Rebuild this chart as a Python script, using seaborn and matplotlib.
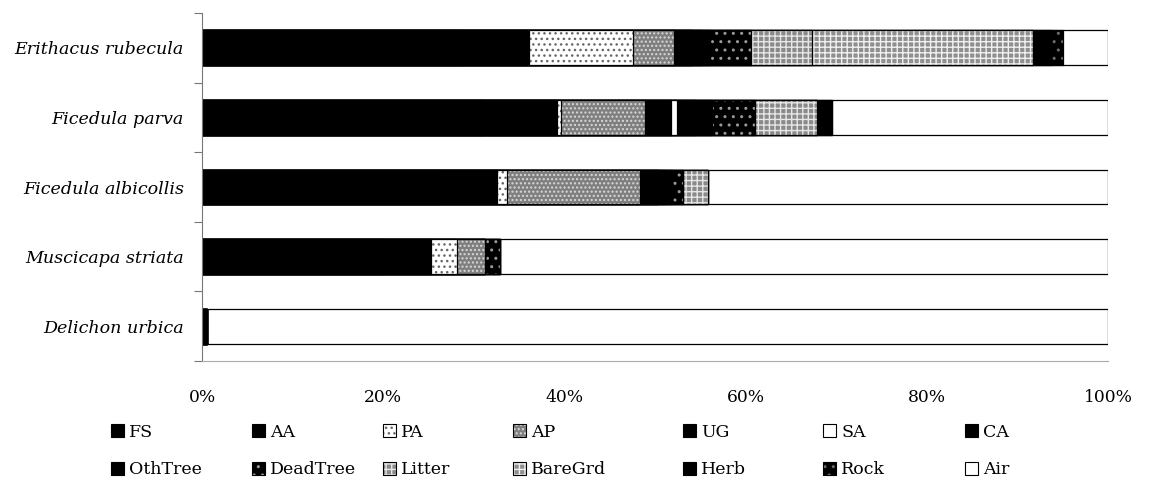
import numpy as np
import pandas as pd
import matplotlib
matplotlib.use("Agg")
import matplotlib.pyplot as plt
import seaborn as sns
from matplotlib.patches import Patch
from matplotlib.ticker import FixedLocator
import matplotlib.colors as mcolors

# ---------------- data ----------------
species = ["Erithacus rubecula", "Ficedula parva", "Ficedula albicollis",
           "Muscicapa striata", "Delichon urbica"]
categories = ["FS", "AA", "PA", "AP", "UG", "SA", "CA", "OthTree",
              "DeadTree", "Litter", "BareGrd", "Herb", "Rock", "Air"]

FS       = [28.1, 31.0, 26.0, 20.0, 0.6]
AA       = [8.0, 8.2, 6.6, 5.3, 0.0]
PA       = [11.5, 0.4, 1.1, 2.8, 0.0]
AP       = [4.5, 9.3, 14.6, 3.1, 0.0]
UG       = [2.0, 2.9, 2.0, 0.0, 0.0]
SA       = [0.0, 0.6, 0.0, 0.0, 0.0]
CA       = [1.0, 2.0, 0.8, 0.0, 0.0]
OthTree  = [1.0, 1.9, 0.8, 0.0, 0.0]
DeadTree = [4.5, 4.7, 1.2, 1.7, 0.0]
Litter   = [6.7, 6.9, 2.7, 0.0, 0.0]
BareGrd  = [24.4, 0.0, 0.0, 0.0, 0.0]
Herb     = [2.0, 1.6, 0.0, 0.0, 0.0]
Rock     = [1.3, 0.0, 0.0, 0.0, 0.0]
Air      = [5.0, 30.5, 44.2, 67.1, 99.4]

xticks = [0, 20, 40, 60, 80, 100]
xtick_labels = ["0%", "20%", "40%", "60%", "80%", "100%"]

values = dict(FS=FS, AA=AA, PA=PA, AP=AP, UG=UG, SA=SA, CA=CA, OthTree=OthTree,
              DeadTree=DeadTree, Litter=Litter, BareGrd=BareGrd, Herb=Herb,
              Rock=Rock, Air=Air)

# style per category: (face, hatch, hatch colour)
styles = {
    "FS":       ("black", None, "black"),
    "AA":       ("black", None, "black"),
    "PA":       ("white", "...", "#666666"),
    "AP":       ("#7f7f7f", "....", "#d9d9d9"),
    "UG":       ("black", None, "black"),
    "SA":       ("white", None, "white"),
    "CA":       ("black", None, "black"),
    "OthTree":  ("black", None, "black"),
    "DeadTree": ("black", "..", "#9a9a9a"),
    "Litter":   ("#8a8a8a", "+++", "#e6e6e6"),
    "BareGrd":  ("#8f8f8f", "+++", "#f0f0f0"),
    "Herb":     ("black", None, "black"),
    "Rock":     ("black", "..", "#6e6e6e"),
    "Air":      ("white", None, "white"),
}

# ---------------- figure ----------------
sns.set_theme(style="white")
plt.rcParams["font.family"] = ["DejaVu Serif"]
plt.rcParams["hatch.linewidth"] = 1.0
plt.rcParams["text.color"] = "black"
plt.rcParams["xtick.color"] = "black"
plt.rcParams["ytick.color"] = "black"
plt.rcParams["axes.labelcolor"] = "black"

fig = plt.figure(figsize=(11.49, 4.87), dpi=100)
ax = fig.add_axes([202 / 1149, 1 - 361 / 487, 906 / 1149, 348 / 487])

df = pd.DataFrame(values, index=species)
cum = df[categories].cumsum(axis=1)

for cat in reversed(categories):
    face, hatch, hcol = styles[cat]
    d = pd.DataFrame({"species": species, "value": cum[cat].values})
    sns.barplot(data=d, x="value", y="species", orient="h", order=species,
                color=face, saturation=1, errorbar=None, width=0.5,
                hatch=hatch, edgecolor=hcol, linewidth=0, ax=ax)
    sns.barplot(data=d, x="value", y="species", orient="h", order=species,
                errorbar=None, width=0.5, facecolor="none",
                edgecolor="black", linewidth=0.9, ax=ax)

ax.set_xlim(0, 100)
ax.set_ylim(4.5, -0.5)
ax.set_xlabel("")
ax.set_ylabel("")

ax.set_xticks(xticks)
ax.set_xticklabels(xtick_labels, fontsize=12.3)
ax.tick_params(axis="x", length=0, pad=20, colors="black")

ax.set_yticks(range(len(species)))
ax.set_yticklabels(species, fontsize=12.6, style="italic")
ax.yaxis.set_minor_locator(FixedLocator(np.arange(-0.5, 5.0, 1.0)))
ax.tick_params(axis="y", which="major", length=0, pad=13, colors="black")
ax.tick_params(axis="y", which="minor", length=6, width=0.8, color="#777777",
               left=True, direction="out")

for s in ["top", "right"]:
    ax.spines[s].set_visible(False)
ax.spines["left"].set_color("#777777")
ax.spines["left"].set_linewidth(0.8)
ax.spines["bottom"].set_color("#aaaaaa")
ax.spines["bottom"].set_linewidth(0.8)
ax.grid(False)

# ---------------- legend ----------------
def handle(cat):
    face, hatch, hcol = styles[cat]
    return Patch(facecolor=face, hatch=hatch, edgecolor=hcol, linewidth=0)

row1 = ["FS", "AA", "PA", "AP", "UG", "SA", "CA"]
row2 = ["OthTree", "DeadTree", "Litter", "BareGrd", "Herb", "Rock", "Air"]
col_x = [111, 252, 383, 513, 683, 823, 965]
for x0, a, b in zip(col_x, row1, row2):
    hs = [handle(a), handle(b)]
    leg = fig.legend(hs, [a, b], loc="center left",
                     bbox_to_anchor=(x0 / 1149, 1 - 451 / 487),
                     frameon=False, fontsize=12.5, handlelength=0.75,
                     handleheight=0.75, handletextpad=0.3, labelspacing=1.2,
                     borderpad=0, borderaxespad=0)
    for p, cat in zip(leg.get_patches(), [a, b]):
        p.set_edgecolor("black")
        p.set_linewidth(0.8)
        p._hatch_color = mcolors.to_rgba(styles[cat][2])

fig.savefig("out.png", dpi=100)
